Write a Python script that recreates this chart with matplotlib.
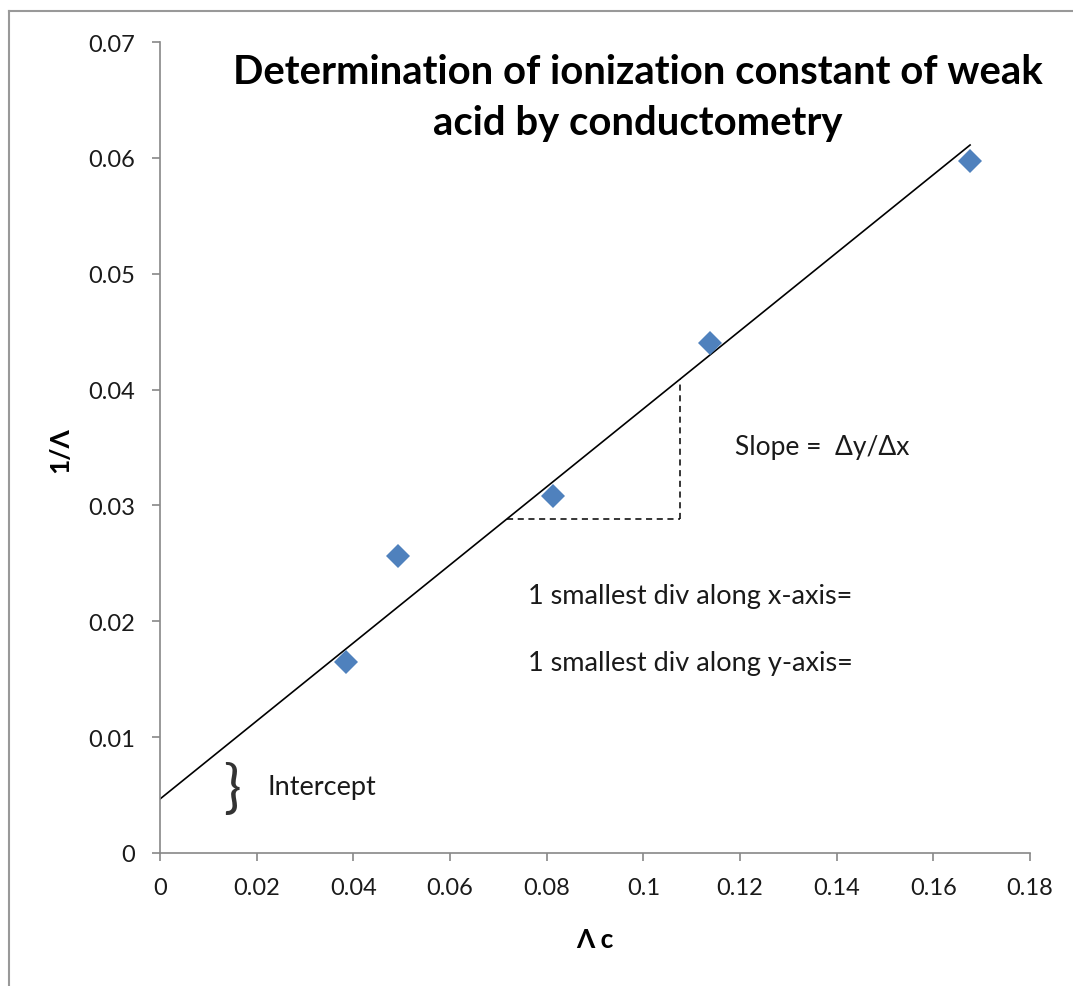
import matplotlib
matplotlib.use("Agg")
import matplotlib.pyplot as plt
from matplotlib.lines import Line2D
import numpy as np

# ---- data ----
lambda_c = [0.0385, 0.0492, 0.0813, 0.1138, 0.1676]
inv_lambda = [0.0165, 0.0256, 0.0308, 0.0440, 0.0597]
fit_intercept = 0.00466
fit_slope = 0.3368
fit_x = [0.0, 0.1676]
tri_x = [0.0718, 0.1076]
x_ticks = [0, 0.02, 0.04, 0.06, 0.08, 0.1, 0.12, 0.14, 0.16, 0.18]
x_tick_labels = ["0", "0.02", "0.04", "0.06", "0.08", "0.1", "0.12", "0.14", "0.16", "0.18"]
y_ticks = [0, 0.01, 0.02, 0.03, 0.04, 0.05, 0.06, 0.07]
y_tick_labels = ["0", "0.01", "0.02", "0.03", "0.04", "0.05", "0.06", "0.07"]

W, H = 1073, 987
plt.rcParams['font.family'] = ['Lato', 'DejaVu Sans']
fig = plt.figure(figsize=(W / 100, H / 100), dpi=100)
ax = fig.add_axes([160 / W, 1 - 854 / H, (1030 - 160) / W, (854 - 43) / H])

gray = '#888888'
txt = '#1a1a1a'
for s in ['top', 'right']:
    ax.spines[s].set_visible(False)
for s in ['left', 'bottom']:
    ax.spines[s].set_color(gray)
    ax.spines[s].set_linewidth(1.2)

ax.set_xlim(0, 0.18)
ax.set_ylim(0, 0.07)
ax.set_xticks(x_ticks)
ax.set_xticklabels(x_tick_labels)
ax.set_yticks(y_ticks)
ax.set_yticklabels(y_tick_labels)
ax.tick_params(axis='both', direction='out', length=6, width=1.2, color=gray,
               labelsize=17, labelcolor=txt)
ax.tick_params(axis='x', pad=11)
ax.tick_params(axis='y', pad=12)

# fit line
fx = np.array(fit_x)
ax.plot(fx, fit_intercept + fit_slope * fx, color='black', lw=1.2, zorder=2)

# slope triangle
ty = [fit_intercept + fit_slope * t for t in tri_x]
ax.plot([tri_x[0], tri_x[1]], [ty[0], ty[0]], color='black', lw=1.1, ls=(0, (4, 3)))
ax.plot([tri_x[1], tri_x[1]], [ty[0], ty[1]], color='black', lw=1.1, ls=(0, (4, 3)))

# data points
ax.plot(lambda_c, inv_lambda, 'D', color='#4F81BD', markersize=12, markeredgewidth=0, zorder=3)

# annotations
ax.text(0.0148, 0.0055, '}', fontsize=42, ha='center', va='center', color='#333333',
        fontweight='normal')
ax.text(0.0223, 0.00578, 'Intercept', fontsize=19.5, ha='left', va='center', color=txt)
ax.text(0.119, 0.0351, 'Slope =  Δy/Δx', fontsize=19, ha='left', va='center', color=txt)
ax.text(0.0761, 0.0222, '1 smallest div along x-axis=', fontsize=19.5, ha='left', va='center',
        color=txt)
ax.text(0.0761, 0.0164, '1 smallest div along y-axis=', fontsize=19.5, ha='left', va='center',
        color=txt)

# title
fig.text(638 / W, 1 - 72 / H, 'Determination of ionization constant of weak', fontsize=28.8,
         fontweight='bold', ha='center', va='center')
fig.text(638 / W, 1 - 123 / H, 'acid by conductometry', fontsize=28.8,
         fontweight='bold', ha='center', va='center')

# axis labels
fig.text(60 / W, 1 - 450 / H, '1/Λ', fontsize=19, fontweight='bold', rotation=90,
         ha='center', va='center')
fig.text(595 / W, 1 - 940 / H, 'Λ c', fontsize=19, fontweight='bold', ha='center', va='center')

# outer frame (partially visible)
fig.add_artist(Line2D([9 / W, 9 / W], [0, 1 - 12 / H], transform=fig.transFigure, color='#999999', lw=1.5))
fig.add_artist(Line2D([9 / W, 1], [1 - 12 / H, 1 - 12 / H], transform=fig.transFigure, color='#999999', lw=1.5))

fig.savefig('out.png', dpi=100)
